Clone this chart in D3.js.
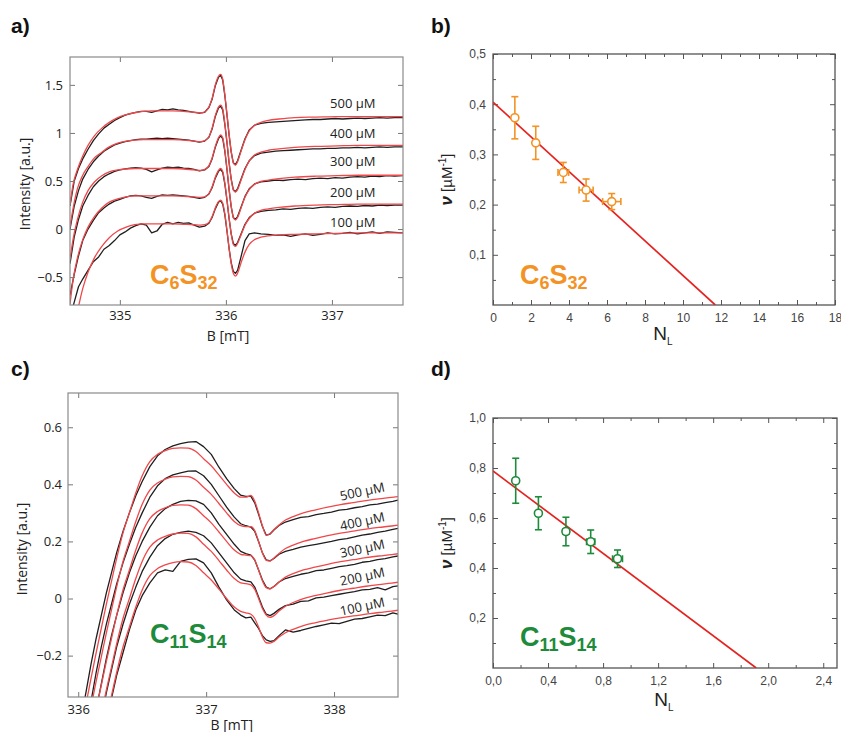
<!DOCTYPE html>
<html><head><meta charset="utf-8">
<script src="https://cdn.jsdelivr.net/npm/d3@7"></script>
<style>body{margin:0;background:#fff}</style>
</head><body>
<svg id="fig" width="841" height="732"></svg>
<script>
// ---------------- DATA ----------------
const concLabels = ["500 µM", "400 µM", "300 µM", "200 µM", "100 µM"];

// Panel a (C6S32) : field grid and spectra
const aGridRed = [334.53,334.56,334.60,334.65,334.70,334.76,334.83,334.90,334.98,335.06,335.14,335.22,335.30,335.40,335.50,335.60,335.70,335.76,335.80,335.84,335.87,335.90,335.93,335.95,335.97,335.99,336.01,336.03,336.05,336.07,336.09,336.11,336.14,336.18,336.22,336.27,336.33,336.40,336.50,336.65,336.85,337.05,337.25,337.45,337.67];
const aRed500 = [0.25,0.47,0.62,0.76,0.87,0.97,1.05,1.11,1.16,1.19,1.21,1.225,1.23,1.23,1.23,1.225,1.215,1.21,1.22,1.27,1.36,1.50,1.59,1.61,1.56,1.40,1.20,0.99,0.81,0.69,0.665,0.70,0.80,0.93,1.02,1.08,1.11,1.13,1.145,1.16,1.165,1.17,1.17,1.17,1.17];
const aRed400 = [0.02,0.22,0.42,0.56,0.65,0.74,0.80,0.855,0.895,0.915,0.925,0.93,0.93,0.93,0.93,0.925,0.915,0.91,0.92,0.96,1.05,1.18,1.27,1.29,1.25,1.10,0.91,0.70,0.52,0.41,0.385,0.41,0.50,0.62,0.71,0.77,0.80,0.82,0.835,0.85,0.86,0.865,0.87,0.87,0.87];
const aRed300 = [-0.32,-0.10,0.10,0.28,0.40,0.49,0.555,0.595,0.615,0.625,0.63,0.63,0.63,0.63,0.63,0.625,0.615,0.61,0.62,0.66,0.74,0.86,0.95,0.98,0.95,0.82,0.63,0.42,0.24,0.12,0.095,0.12,0.21,0.33,0.41,0.465,0.495,0.51,0.525,0.54,0.55,0.555,0.56,0.56,0.56];
const aRed200 = [-0.78,-0.52,-0.30,-0.11,0.02,0.13,0.22,0.28,0.315,0.335,0.345,0.345,0.345,0.345,0.345,0.34,0.335,0.33,0.335,0.37,0.44,0.54,0.61,0.63,0.60,0.48,0.31,0.12,-0.05,-0.16,-0.18,-0.15,-0.07,0.04,0.11,0.165,0.195,0.21,0.225,0.24,0.25,0.255,0.26,0.26,0.26];
const aRed100 = [-1.2,-1.0,-0.85,-0.62,-0.45,-0.30,-0.18,-0.09,-0.02,0.02,0.045,0.055,0.055,0.055,0.055,0.05,0.045,0.04,0.045,0.07,0.13,0.22,0.285,0.30,0.27,0.16,-0.01,-0.20,-0.36,-0.46,-0.49,-0.46,-0.36,-0.24,-0.16,-0.11,-0.085,-0.07,-0.06,-0.055,-0.05,-0.045,-0.04,-0.04,-0.04];

const aGridBlack = [334.53,334.57,334.61,334.65,334.70,334.75,334.80,334.85,334.90,334.95,335.00,335.05,335.10,335.15,335.20,335.25,335.30,335.35,335.40,335.45,335.50,335.55,335.60,335.65,335.70,335.75,335.80,335.84,335.87,335.90,335.93,335.95,335.97,335.99,336.01,336.03,336.05,336.07,336.09,336.11,336.14,336.18,336.22,336.27,336.33,336.40,336.47,336.54,336.61,336.68,336.75,336.82,336.89,336.96,337.03,337.10,337.17,337.24,337.31,337.38,337.45,337.52,337.59,337.67];
const aBlack500 = [0.24,0.50,0.63,0.73,0.83,0.92,0.99,1.05,1.09,1.13,1.16,1.185,1.20,1.215,1.225,1.225,1.215,1.23,1.245,1.24,1.25,1.24,1.235,1.225,1.215,1.205,1.215,1.265,1.35,1.49,1.58,1.60,1.55,1.39,1.19,0.98,0.80,0.69,0.67,0.71,0.81,0.94,1.03,1.08,1.10,1.11,1.115,1.12,1.125,1.13,1.135,1.14,1.14,1.145,1.15,1.145,1.15,1.155,1.15,1.155,1.16,1.155,1.16,1.16];
const aBlack400 = [0.00,0.24,0.40,0.52,0.62,0.70,0.76,0.81,0.845,0.875,0.895,0.91,0.92,0.93,0.935,0.935,0.94,0.945,0.94,0.945,0.94,0.935,0.93,0.925,0.915,0.905,0.915,0.955,1.04,1.17,1.26,1.28,1.24,1.09,0.90,0.69,0.52,0.41,0.39,0.42,0.51,0.63,0.71,0.765,0.79,0.80,0.81,0.815,0.82,0.825,0.83,0.835,0.835,0.84,0.84,0.845,0.845,0.85,0.845,0.85,0.855,0.85,0.855,0.855];
const aBlack300 = [-0.36,-0.08,0.10,0.24,0.35,0.44,0.50,0.545,0.575,0.60,0.615,0.625,0.635,0.64,0.635,0.62,0.595,0.615,0.635,0.645,0.64,0.645,0.635,0.63,0.62,0.605,0.615,0.65,0.73,0.85,0.94,0.97,0.94,0.81,0.62,0.41,0.23,0.12,0.10,0.13,0.22,0.34,0.42,0.47,0.49,0.50,0.51,0.505,0.515,0.52,0.515,0.525,0.53,0.525,0.535,0.53,0.54,0.545,0.54,0.55,0.545,0.555,0.55,0.555];
const aBlack200 = [-0.69,-0.47,-0.28,-0.12,0.00,0.09,0.17,0.22,0.26,0.29,0.31,0.33,0.345,0.35,0.345,0.33,0.32,0.34,0.355,0.35,0.355,0.35,0.345,0.34,0.33,0.32,0.33,0.365,0.43,0.53,0.60,0.62,0.59,0.47,0.30,0.11,-0.05,-0.15,-0.17,-0.14,-0.06,0.05,0.12,0.165,0.185,0.195,0.20,0.21,0.205,0.215,0.22,0.215,0.225,0.23,0.225,0.235,0.24,0.235,0.245,0.24,0.25,0.245,0.25,0.25];
const aBlack100 = [-0.92,-0.76,-0.60,-0.52,-0.43,-0.34,-0.29,-0.21,-0.17,-0.12,-0.06,-0.03,0.01,0.035,0.055,0.04,-0.04,-0.02,0.05,0.07,0.055,0.07,0.06,0.065,0.04,0.02,0.03,0.06,0.12,0.21,0.28,0.295,0.26,0.15,-0.02,-0.20,-0.35,-0.44,-0.46,-0.43,-0.30,-0.12,-0.05,-0.04,-0.05,-0.055,-0.065,-0.06,-0.075,-0.06,-0.05,-0.065,-0.055,-0.04,-0.05,-0.045,-0.035,-0.05,-0.04,-0.03,-0.045,-0.03,-0.035,-0.04];

// Panel c (C11S14)
const cGridRed = [336.03,336.06,336.10,336.14,336.18,336.22,336.26,336.30,336.35,336.40,336.45,336.50,336.56,336.62,336.68,336.74,336.80,336.86,336.92,336.98,337.04,337.10,337.16,337.22,337.27,337.31,337.35,337.38,337.41,337.44,337.47,337.50,337.53,337.57,337.62,337.68,337.76,337.85,337.95,338.05,338.15,338.25,338.35,338.45,338.50];
const cRed500 = [-0.43,-0.37,-0.28,-0.19,-0.105,-0.02,0.06,0.14,0.23,0.30,0.37,0.43,0.48,0.505,0.518,0.526,0.528,0.527,0.515,0.49,0.465,0.433,0.40,0.37,0.355,0.355,0.361,0.341,0.30,0.255,0.222,0.228,0.242,0.258,0.275,0.287,0.30,0.31,0.32,0.329,0.336,0.343,0.349,0.354,0.357];
const cRed400 = [-0.53,-0.47,-0.38,-0.29,-0.205,-0.12,-0.04,0.04,0.13,0.20,0.27,0.33,0.38,0.405,0.418,0.426,0.428,0.427,0.415,0.39,0.365,0.333,0.30,0.27,0.255,0.252,0.252,0.238,0.20,0.16,0.134,0.132,0.142,0.158,0.175,0.187,0.20,0.21,0.22,0.229,0.236,0.243,0.249,0.254,0.257];
const cRed300 = [-0.63,-0.57,-0.48,-0.39,-0.305,-0.22,-0.14,-0.06,0.03,0.10,0.17,0.23,0.28,0.305,0.318,0.326,0.328,0.327,0.315,0.29,0.265,0.233,0.20,0.17,0.155,0.152,0.15,0.135,0.10,0.062,0.038,0.034,0.042,0.058,0.075,0.087,0.10,0.11,0.12,0.129,0.136,0.143,0.149,0.154,0.157];
const cRed200 = [-0.73,-0.67,-0.58,-0.49,-0.405,-0.32,-0.24,-0.16,-0.07,0.0,0.07,0.13,0.18,0.205,0.218,0.226,0.229,0.228,0.216,0.19,0.165,0.133,0.10,0.07,0.055,0.052,0.048,0.032,0.0,-0.035,-0.058,-0.066,-0.06,-0.044,-0.027,-0.014,0.0,0.01,0.02,0.029,0.036,0.043,0.049,0.054,0.057];
const cRed100 = [-0.83,-0.77,-0.68,-0.59,-0.505,-0.42,-0.34,-0.26,-0.17,-0.10,-0.03,0.03,0.08,0.105,0.118,0.126,0.129,0.128,0.116,0.09,0.065,0.033,0.0,-0.03,-0.045,-0.05,-0.055,-0.07,-0.10,-0.135,-0.155,-0.156,-0.15,-0.135,-0.12,-0.108,-0.095,-0.085,-0.076,-0.068,-0.061,-0.055,-0.049,-0.044,-0.041];

const cGridBlack = [336.03,336.06,336.10,336.14,336.18,336.22,336.26,336.30,336.35,336.40,336.45,336.50,336.56,336.62,336.68,336.74,336.80,336.86,336.92,336.98,337.04,337.10,337.16,337.22,337.27,337.31,337.35,337.38,337.41,337.44,337.47,337.50,337.53,337.57,337.62,337.68,337.74,337.80,337.86,337.92,337.98,338.04,338.10,338.16,338.22,338.28,338.34,338.40,338.46,338.50];
const cBlack500 = [-0.40,-0.33,-0.23,-0.14,-0.06,0.02,0.09,0.16,0.235,0.30,0.36,0.41,0.462,0.50,0.522,0.535,0.543,0.548,0.55,0.532,0.505,0.46,0.42,0.385,0.362,0.358,0.358,0.335,0.295,0.252,0.222,0.226,0.24,0.256,0.268,0.276,0.284,0.287,0.294,0.298,0.303,0.31,0.312,0.318,0.322,0.328,0.331,0.336,0.34,0.345];
const cBlack400 = [-0.53,-0.46,-0.36,-0.26,-0.17,-0.09,-0.02,0.05,0.125,0.19,0.25,0.30,0.355,0.395,0.42,0.433,0.44,0.446,0.447,0.43,0.40,0.36,0.32,0.285,0.262,0.255,0.25,0.235,0.20,0.16,0.135,0.132,0.14,0.155,0.165,0.172,0.18,0.185,0.19,0.195,0.20,0.206,0.21,0.216,0.222,0.226,0.232,0.236,0.242,0.246];
const cBlack300 = [-0.66,-0.59,-0.49,-0.39,-0.30,-0.21,-0.13,-0.06,0.02,0.09,0.15,0.20,0.25,0.29,0.315,0.33,0.34,0.344,0.342,0.33,0.30,0.26,0.225,0.19,0.165,0.157,0.152,0.135,0.10,0.065,0.04,0.034,0.042,0.058,0.07,0.078,0.085,0.09,0.098,0.10,0.106,0.112,0.115,0.12,0.127,0.13,0.136,0.14,0.146,0.149];
const cBlack200 = [-0.79,-0.72,-0.62,-0.52,-0.42,-0.33,-0.25,-0.17,-0.09,-0.02,0.04,0.095,0.145,0.185,0.21,0.225,0.232,0.236,0.232,0.22,0.195,0.16,0.125,0.09,0.068,0.062,0.058,0.04,0.005,-0.03,-0.055,-0.06,-0.052,-0.038,-0.025,-0.02,-0.01,-0.008,0.002,0.005,0.01,0.015,0.02,0.024,0.03,0.032,0.038,0.03,0.042,0.044];
const cBlack100 = [-0.92,-0.85,-0.75,-0.64,-0.54,-0.44,-0.35,-0.27,-0.19,-0.11,-0.04,0.01,0.055,0.09,0.10,0.095,0.13,0.137,0.139,0.125,0.09,0.04,-0.005,-0.04,-0.058,-0.068,-0.065,-0.085,-0.105,-0.13,-0.145,-0.15,-0.148,-0.13,-0.11,-0.118,-0.112,-0.105,-0.098,-0.092,-0.086,-0.088,-0.08,-0.072,-0.07,-0.064,-0.058,-0.06,-0.05,-0.055];

// Panel b (C6S32) binding data
const bNL = [1.15, 2.25, 3.7, 4.9, 6.25];
const bNu = [0.373, 0.323, 0.264, 0.229, 0.206];
const bNuErr = [0.042, 0.033, 0.020, 0.022, 0.016];
const bNLErr = [0, 0, 0.28, 0.37, 0.48];
const bFitNL = [0, 11.7];
const bFitNu = [0.404, 0];

// Panel d (C11S14) binding data
const dNL = [0.165, 0.33, 0.53, 0.71, 0.905];
const dNu = [0.749, 0.619, 0.546, 0.505, 0.437];
const dNuErr = [0.090, 0.066, 0.057, 0.047, 0.035];
const dNLErr = [0, 0, 0.02, 0.03, 0.036];
const dFitNL = [0, 1.913];
const dFitNu = [0.788, 0];

// tick values
const aXTicks = [335, 336, 337];
const aYTicks = [-0.5, 0, 0.5, 1, 1.5];
const cXTicks = [336, 337, 338];
const cYTicks = [-0.2, 0, 0.2, 0.4, 0.6];
const bXTicks = [0, 2, 4, 6, 8, 10, 12, 14, 16, 18];
const bXMinor = [1, 3, 5, 7, 9, 11, 13, 15, 17];
const bYTicks = [0.1, 0.2, 0.3, 0.4, 0.5];
const bYMinor = [0.05, 0.15, 0.25, 0.35, 0.45];
const dXTicks = [0, 0.4, 0.8, 1.2, 1.6, 2.0, 2.4];
const dXMinor = [0.2, 0.6, 1.0, 1.4, 1.8, 2.2];
const dYTicks = [0.2, 0.4, 0.6, 0.8, 1.0];
const dYMinor = [0.1, 0.3, 0.5, 0.7, 0.9];

// ---------------- STYLE ----------------
const ORANGE = "#f39325";
const GREEN = "#1d8b3b";
const FITRED = "#e42320";
const SPECRED = "#f0484a";
const SPECBLK = "#1e1e1e";
const MATFONT = "'Open Sans', 'DejaVu Sans', sans-serif";
const ORGFONT = "'Liberation Sans', Arial, sans-serif";

const svg = d3.select("#fig");
svg.append("rect").attr("width", 841).attr("height", 732).attr("fill", "#fff");

function styleAxis(sel, color, font, size, textColor) {
  sel.select(".domain").remove();
  sel.selectAll(".tick line").attr("stroke", color).attr("stroke-width", 1);
  sel.selectAll(".tick text").attr("fill", textColor).style("font-family", font).style("font-size", size + "px");
}

function compoundLabel(g, x, y, parts, color) {
  const t = g.append("text").attr("x", x).attr("y", y)
    .attr("fill", color).style("font-family", ORGFONT).style("font-weight", "bold").style("font-size", "27px");
  t.append("tspan").text(parts[0]);
  t.append("tspan").text(parts[1]).attr("dy", 5).style("font-size", "18px");
  t.append("tspan").text(parts[2]).attr("dy", -5);
  t.append("tspan").text(parts[3]).attr("dy", 5).style("font-size", "18px");
}

function panelLetter(x, y, s) {
  svg.append("text").attr("x", x).attr("y", y).text(s)
    .style("font-family", ORGFONT).style("font-weight", "bold").style("font-size", "21px").attr("fill", "#111");
}

function drawSpectra(cfg) {
  const g = svg.append("g");
  const x = d3.scaleLinear().domain(cfg.xDomain).range([cfg.left, cfg.right]);
  const y = d3.scaleLinear().domain(cfg.yDomain).range([cfg.bottom, cfg.top]);
  svg.append("clipPath").attr("id", cfg.id).append("rect")
    .attr("x", cfg.left).attr("y", cfg.top).attr("width", cfg.right - cfg.left).attr("height", cfg.bottom - cfg.top);
  const plot = g.append("g").attr("clip-path", `url(#${cfg.id})`);
  const mk = (grid, curve) => d3.line().x((d, i) => x(grid[i])).y(d => y(d)).curve(curve);
  cfg.blacks.forEach(arr => {
    plot.append("path").datum(arr).attr("d", mk(cfg.blackGrid, d3.curveLinear))
      .attr("fill", "none").attr("stroke", SPECBLK).attr("stroke-width", 1.3).attr("stroke-linejoin", "round");
  });
  cfg.reds.forEach(arr => {
    plot.append("path").datum(arr).attr("d", mk(cfg.redGrid, d3.curveMonotoneX))
      .attr("fill", "none").attr("stroke", SPECRED).attr("stroke-width", 1.3);
  });
  const fmt = d3.format("~g");
  const axB = g.append("g").attr("transform", `translate(0,${cfg.bottom})`)
    .call(d3.axisBottom(x).tickValues(cfg.xTicks).tickSizeInner(-5).tickSizeOuter(0).tickPadding(cfg.xPad).tickFormat(fmt));
  styleAxis(axB, "#777", MATFONT, 13, "#222");
  const axT = g.append("g").attr("transform", `translate(0,${cfg.top})`)
    .call(d3.axisTop(x).tickValues(cfg.xTicks).tickSizeInner(-5).tickSizeOuter(0).tickFormat(""));
  styleAxis(axT, "#777", MATFONT, 13, "#222");
  const axL = g.append("g").attr("transform", `translate(${cfg.left},0)`)
    .call(d3.axisLeft(y).tickValues(cfg.yTicks).tickSizeInner(-5).tickSizeOuter(0).tickPadding(cfg.yPad).tickFormat(fmt));
  styleAxis(axL, "#777", MATFONT, 13, "#222");
  const axR = g.append("g").attr("transform", `translate(${cfg.right},0)`)
    .call(d3.axisRight(y).tickValues(cfg.yTicks).tickSizeInner(-5).tickSizeOuter(0).tickFormat(""));
  styleAxis(axR, "#777", MATFONT, 13, "#222");
  g.append("rect").attr("x", cfg.left).attr("y", cfg.top).attr("width", cfg.right - cfg.left).attr("height", cfg.bottom - cfg.top)
    .attr("fill", "none").attr("stroke", "#8a8a8a").attr("stroke-width", 1.2);
  // concentration labels
  concLabels.forEach((s, i) => {
    const px = x(cfg.labelB), py = y(cfg.labelV[i]);
    g.append("text").attr("transform", `translate(${px},${py}) rotate(${cfg.labelRot})`)
      .attr("text-anchor", cfg.labelAnchor).attr("dy", "0.35em").text(s)
      .style("font-family", MATFONT).style("font-size", "13px").attr("fill", "#222");
  });
  // axis titles
  g.append("text").attr("transform", `translate(${cfg.yTitleX},${(cfg.top + cfg.bottom) / 2 + cfg.yTitleShift}) rotate(-90)`)
    .attr("text-anchor", "middle").text("Intensity [a.u.]")
    .style("font-family", MATFONT).style("font-size", "14px").attr("fill", "#222");
  g.append("text").attr("x", x(cfg.xTitleB)).attr("y", cfg.xTitleY).attr("text-anchor", "middle").text("B [mT]")
    .style("font-family", MATFONT).style("font-size", "14px").attr("fill", "#222");
  compoundLabel(g, cfg.compX, cfg.compY, cfg.comp, cfg.compColor);
}

function drawBinding(cfg) {
  const g = svg.append("g");
  const x = d3.scaleLinear().domain(cfg.xDomain).range([cfg.left, cfg.right]);
  const y = d3.scaleLinear().domain(cfg.yDomain).range([cfg.bottom, cfg.top]);
  const loc = d3.formatLocale({decimal: ",", thousands: ".", grouping: [3], currency: ["", ""]});
  const xf = cfg.xFmt ? loc.format(cfg.xFmt) : d3.format("d");
  const yf = loc.format(".1f");
  const axs = [];
  axs.push(g.append("g").attr("transform", `translate(0,${cfg.bottom})`).call(d3.axisBottom(x).tickValues(cfg.xTicks).tickSizeInner(-5).tickSizeOuter(0).tickPadding(8).tickFormat(xf)));
  axs.push(g.append("g").attr("transform", `translate(0,${cfg.bottom})`).call(d3.axisBottom(x).tickValues(cfg.xMinor).tickSizeInner(-3).tickSizeOuter(0).tickFormat("")));
  axs.push(g.append("g").attr("transform", `translate(0,${cfg.top})`).call(d3.axisTop(x).tickValues(cfg.xTicks).tickSizeInner(-5).tickSizeOuter(0).tickFormat("")));
  axs.push(g.append("g").attr("transform", `translate(0,${cfg.top})`).call(d3.axisTop(x).tickValues(cfg.xMinor).tickSizeInner(-3).tickSizeOuter(0).tickFormat("")));
  axs.push(g.append("g").attr("transform", `translate(${cfg.left},0)`).call(d3.axisLeft(y).tickValues(cfg.yTicks).tickSizeInner(-5).tickSizeOuter(0).tickPadding(7).tickFormat(yf)));
  axs.push(g.append("g").attr("transform", `translate(${cfg.left},0)`).call(d3.axisLeft(y).tickValues(cfg.yMinor).tickSizeInner(-3).tickSizeOuter(0).tickFormat("")));
  axs.push(g.append("g").attr("transform", `translate(${cfg.right},0)`).call(d3.axisRight(y).tickValues(cfg.yTicks).tickSizeInner(-5).tickSizeOuter(0).tickFormat("")));
  axs.push(g.append("g").attr("transform", `translate(${cfg.right},0)`).call(d3.axisRight(y).tickValues(cfg.yMinor).tickSizeInner(-3).tickSizeOuter(0).tickFormat("")));
  axs.forEach(a => styleAxis(a, "#555", ORGFONT, 12, "#444"));
  g.append("rect").attr("x", cfg.left).attr("y", cfg.top).attr("width", cfg.right - cfg.left).attr("height", cfg.bottom - cfg.top)
    .attr("fill", "none").attr("stroke", "#555").attr("stroke-width", 1.3);

  svg.append("clipPath").attr("id", cfg.id).append("rect")
    .attr("x", cfg.left).attr("y", cfg.top).attr("width", cfg.right - cfg.left).attr("height", cfg.bottom - cfg.top);
  // fit line
  g.append("path").attr("clip-path", `url(#${cfg.id})`)
    .datum(cfg.fitX.map((v, i) => [v, cfg.fitY[i]]))
    .attr("d", d3.line().x(d => x(d[0])).y(d => y(d[1])))
    .attr("fill", "none").attr("stroke", FITRED).attr("stroke-width", 1.7);
  // error bars and points
  const col = cfg.color;
  cfg.px.forEach((xv, i) => {
    const yv = cfg.py[i], ey = cfg.ey[i], ex = cfg.ex[i];
    const cx = x(xv), cy = y(yv);
    const eg = g.append("g").attr("stroke", col).attr("stroke-width", 1.6).attr("fill", "none");
    eg.append("line").attr("x1", cx).attr("x2", cx).attr("y1", y(yv - ey)).attr("y2", y(yv + ey));
    eg.append("line").attr("x1", cx - 3.5).attr("x2", cx + 3.5).attr("y1", y(yv - ey)).attr("y2", y(yv - ey));
    eg.append("line").attr("x1", cx - 3.5).attr("x2", cx + 3.5).attr("y1", y(yv + ey)).attr("y2", y(yv + ey));
    if (ex > 0) {
      eg.append("line").attr("x1", x(xv - ex)).attr("x2", x(xv + ex)).attr("y1", cy).attr("y2", cy);
      eg.append("line").attr("x1", x(xv - ex)).attr("x2", x(xv - ex)).attr("y1", cy - 3.5).attr("y2", cy + 3.5);
      eg.append("line").attr("x1", x(xv + ex)).attr("x2", x(xv + ex)).attr("y1", cy - 3.5).attr("y2", cy + 3.5);
    }
    g.append("circle").attr("cx", cx).attr("cy", cy).attr("r", 4)
      .attr("fill", "#fff").attr("stroke", col).attr("stroke-width", 1.6);
  });
  // axis titles
  const yt = g.append("text").attr("transform", `translate(${cfg.yTitleX},${(cfg.top + cfg.bottom) / 2}) rotate(-90)`)
    .attr("text-anchor", "middle").style("font-family", ORGFONT).style("font-size", "15px").attr("fill", "#222");
  yt.append("tspan").text("ν").style("font-weight", "bold").style("font-style", "italic").style("font-size", "17px");
  yt.append("tspan").text(" [µM");
  yt.append("tspan").text("-1").attr("dy", -6).style("font-size", "10px");
  yt.append("tspan").text("]").attr("dy", 6);
  const xt = g.append("text").attr("x", (cfg.left + cfg.right) / 2 - 1).attr("y", cfg.xTitleY)
    .attr("text-anchor", "middle").style("font-family", ORGFONT).style("font-size", "19px").attr("fill", "#222");
  xt.append("tspan").text("N");
  xt.append("tspan").text("L").attr("dy", 5).style("font-size", "10px");
  compoundLabel(g, cfg.compX, cfg.compY, cfg.comp, cfg.color);
}

// ---------------- PANELS ----------------
drawSpectra({
  id: "clipA", left: 70, right: 403, top: 57, bottom: 305,
  xDomain: [334.53, 337.67], yDomain: [-0.79, 1.79],
  xTicks: aXTicks, yTicks: aYTicks, xPad: 6, yPad: 7,
  redGrid: aGridRed, reds: [aRed500, aRed400, aRed300, aRed200, aRed100],
  blackGrid: aGridBlack, blacks: [aBlack500, aBlack400, aBlack300, aBlack200, aBlack100],
  labelB: 337.41, labelV: [1.31, 1.0, 0.70, 0.385, 0.07], labelRot: 0, labelAnchor: "end",
  yTitleX: 30, yTitleShift: 3, xTitleB: 336.02, xTitleY: 341,
  comp: ["C", "6", "S", "32"], compX: 150, compY: 284, compColor: ORANGE
});

drawSpectra({
  id: "clipC", left: 68, right: 398, top: 393, bottom: 697,
  xDomain: [335.92, 338.5], yDomain: [-0.345, 0.72],
  xTicks: cXTicks, yTicks: cYTicks, xPad: 8, yPad: 6,
  redGrid: cGridRed, reds: [cRed500, cRed400, cRed300, cRed200, cRed100],
  blackGrid: cGridBlack, blacks: [cBlack500, cBlack400, cBlack300, cBlack200, cBlack100],
  labelB: 338.22, labelV: [0.375, 0.27, 0.175, 0.077, -0.028], labelRot: -12, labelAnchor: "middle",
  yTitleX: 27, yTitleShift: 4, xTitleB: 337.2, xTitleY: 730,
  comp: ["C", "11", "S", "14"], compX: 150, compY: 643, compColor: GREEN
});

drawBinding({
  id: "clipB", left: 493, right: 835, top: 54, bottom: 305,
  xDomain: [0, 18], yDomain: [0, 0.5],
  xTicks: bXTicks, xMinor: bXMinor, yTicks: bYTicks, yMinor: bYMinor,
  px: bNL, py: bNu, ey: bNuErr, ex: bNLErr, fitX: bFitNL, fitY: bFitNu,
  color: ORANGE, yTitleX: 452, xTitleY: 340,
  comp: ["C", "6", "S", "32"], compX: 520, compY: 284
});

drawBinding({
  id: "clipD", left: 493, right: 837, top: 418, bottom: 668,
  xDomain: [0, 2.5], yDomain: [0, 1],
  xTicks: dXTicks, xMinor: dXMinor, xFmt: ".1f", yTicks: dYTicks, yMinor: dYMinor,
  px: dNL, py: dNu, ey: dNuErr, ex: dNLErr, fitX: dFitNL, fitY: dFitNu,
  color: GREEN, yTitleX: 452, xTitleY: 706,
  comp: ["C", "11", "S", "14"], compX: 520, compY: 646
});

panelLetter(11, 33, "a)");
panelLetter(431, 33, "b)");
panelLetter(11, 376, "c)");
panelLetter(431, 376, "d)");
</script>
</body></html>
